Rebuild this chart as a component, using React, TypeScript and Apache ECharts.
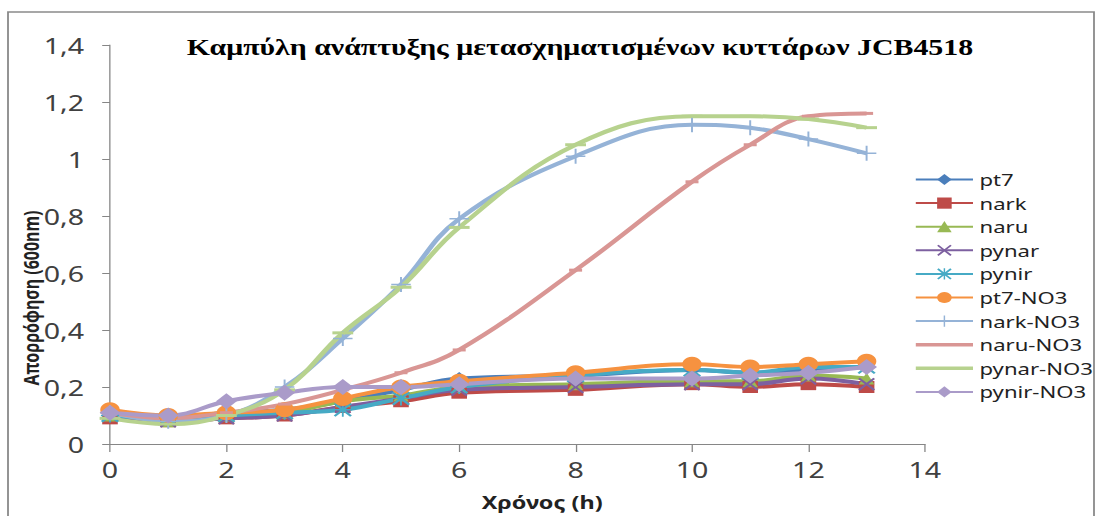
import React, { useEffect, useRef } from "react";
import * as echarts from "echarts";

// ---- data ----
const hours = [0, 1, 2, 3, 4, 5, 6, 8, 10, 11, 12, 13];
const xTicks = [0, 2, 4, 6, 8, 10, 12, 14];
const pt7 = [0.1, 0.09, 0.11, 0.12, 0.15, 0.19, 0.23, 0.24, 0.26, 0.25, 0.26, 0.27];
const nark = [0.09, 0.08, 0.09, 0.1, 0.13, 0.15, 0.18, 0.19, 0.21, 0.2, 0.21, 0.2];
const naru = [0.1, 0.08, 0.1, 0.11, 0.15, 0.17, 0.2, 0.21, 0.22, 0.22, 0.24, 0.23];
const pynar = [0.1, 0.08, 0.09, 0.1, 0.13, 0.16, 0.19, 0.2, 0.21, 0.21, 0.23, 0.21];
const pynir = [0.1, 0.09, 0.1, 0.11, 0.12, 0.16, 0.2, 0.24, 0.26, 0.25, 0.27, 0.27];
const pt7NO3 = [0.12, 0.1, 0.11, 0.12, 0.16, 0.2, 0.22, 0.25, 0.28, 0.27, 0.28, 0.29];
const narkNO3 = [0.11, 0.08, 0.1, 0.2, 0.37, 0.56, 0.79, 1.01, 1.12, 1.11, 1.07, 1.02];
const naruNO3 = [0.11, 0.09, 0.11, 0.14, 0.19, 0.25, 0.33, 0.61, 0.92, 1.05, 1.15, 1.16];
const pynarNO3 = [0.09, 0.07, 0.1, 0.19, 0.39, 0.55, 0.76, 1.05, 1.15, 1.15, 1.14, 1.11];
const pynirNO3 = [0.11, 0.1, 0.15, 0.18, 0.2, 0.2, 0.21, 0.23, 0.23, 0.24, 0.25, 0.27];

const titleText = "Καμπύλη ανάπτυξης μετασχηματισμένων κυττάρων JCB4518";
const xName = "Χρόνος (h)";
const yName = "Απορρόφηση (600nm)";

// ---- styling ----
const SX = 1.3; // horizontal stretch of the original picture
const W = 1100 / SX;
const H = 516;
const FONT = '"Noto Sans", "DejaVu Sans", sans-serif';

const CROSS = "path://M2,0 L10,8 L18,0 L20,2 L12,10 L20,18 L18,20 L10,12 L2,20 L0,18 L8,10 L0,2 Z";
const PLUS = "path://M9,0 H11 V9 H20 V11 H11 V20 H9 V11 H0 V9 H9 Z";
const STAR = PLUS + " M2,0 L10,8 L18,0 L20,2 L12,10 L20,18 L18,20 L10,12 L2,20 L0,18 L8,10 L0,2 Z";
const DASH_S = "path://M0,0 H10 V3 H0 Z";
const DASH_L = "path://M0,0 H16 V3 H0 Z";
const BAR_ICON = "path://M0,0 H50 V4 H0 Z";

const defs = [
  { name: "pt7", data: pt7, color: "#4A7EBB", symbol: "diamond", size: 13 },
  { name: "nark", data: nark, color: "#BE4B48", symbol: "rect", size: 12 },
  { name: "naru", data: naru, color: "#98B954", symbol: "triangle", size: 12 },
  { name: "pynar", data: pynar, color: "#7D60A0", symbol: CROSS, size: 13 },
  { name: "pynir", data: pynir, color: "#46AAC5", symbol: STAR, size: 14 },
  { name: "pt7-NO3", data: pt7NO3, color: "#F69240", symbol: "circle", size: 15 },
  { name: "nark-NO3", data: narkNO3, color: "#95B3D7", symbol: PLUS, size: 15 },
  { name: "naru-NO3", data: naruNO3, color: "#D99694", symbol: DASH_S, size: 10 },
  { name: "pynar-NO3", data: pynarNO3, color: "#B7D28E", symbol: DASH_L, size: 16 },
  { name: "pynir-NO3", data: pynirNO3, color: "#AA9BC9", symbol: "diamond", size: 16 },
];

export default function App() {
  const ref = useRef<HTMLDivElement>(null);

  useEffect(() => {
    document.body.style.margin = "0";
    document.body.style.overflow = "hidden";
    if (!ref.current) return;
    const chart = echarts.init(ref.current, undefined, { renderer: "svg" });

    const gridLeft = 110 / SX;
    const gridRight = W - 925 / SX;

    chart.setOption({
      animation: false,
      backgroundColor: "#ffffff",
      graphic: [
        {
          type: "rect",
          shape: { x: 8 / SX, y: 12, width: (1094 - 8) / SX, height: 520 },
          style: { fill: "none", stroke: "#8a8a8a", lineWidth: 1.4 },
          silent: true,
        },
        {
          type: "text",
          x: 580 / SX,
          y: 47,
          style: {
            text: titleText,
            fontSize: 23,
            fontWeight: "bold",
            fontFamily: '"Liberation Serif", "Times New Roman", serif',
            fill: "#000",
            align: "center",
            verticalAlign: "middle",
          },
        },
        {
          type: "text",
          x: 31 / SX,
          y: 298,
          rotation: Math.PI / 2,
          style: {
            text: yName,
            fontSize: 16,
            fontWeight: "bold",
            fontFamily: FONT,
            fill: "#222",
            align: "center",
            verticalAlign: "middle",
          },
        },
      ],
      grid: { left: gridLeft, right: gridRight, top: 45, bottom: 72 },
      legend: {
        orient: "vertical",
        left: 908 / SX,
        top: 166,
        itemWidth: 44,
        itemHeight: 14,
        itemGap: 6.6,
        textStyle: { fontSize: 17, fontFamily: FONT, color: "#222" },
        data: defs.map((d) =>
          d.symbol === DASH_S || d.symbol === DASH_L
            ? { name: d.name, icon: BAR_ICON }
            : { name: d.name }
        ),
      },
      xAxis: {
        type: "value",
        min: xTicks[0],
        max: xTicks[xTicks.length - 1],
        interval: 2,
        name: xName,
        nameLocation: "middle",
        nameGap: 49,
        nameTextStyle: {
          fontSize: 18,
          fontWeight: "bold",
          fontFamily: FONT,
          color: "#222",
          padding: [0, 0, 0, 38],
        },
        splitLine: { show: false },
        axisLine: { show: true, lineStyle: { color: "#868686", width: 1.2 } },
        axisTick: { show: true, length: 8, lineStyle: { color: "#868686", width: 1 } },
        axisLabel: { fontSize: 22, fontFamily: FONT, color: "#404040", margin: 14 },
      },
      yAxis: {
        type: "value",
        min: 0,
        max: 1.4,
        interval: 0.2,
        splitLine: { show: false },
        axisLine: { show: true, lineStyle: { color: "#868686", width: 1 } },
        axisTick: { show: true, length: 6, lineStyle: { color: "#868686", width: 1 } },
        axisLabel: {
          fontSize: 22,
          fontFamily: FONT,
          color: "#404040",
          margin: 20,
          formatter: (v: number) => String(Math.round(v * 10) / 10).replace(".", ","),
        },
      },
      series: defs.map((d) => ({
        name: d.name,
        type: "line",
        smooth: 0.4,
        data: hours.map((h, i) => [h, d.data[i]]),
        symbol: d.symbol,
        symbolSize: d.size,
        symbolKeepAspect: true,
        showAllSymbol: true,
        color: d.color,
        lineStyle: { width: 4, color: d.color },
        itemStyle: { color: d.color },
      })),
    });

    return () => chart.dispose();
  }, []);

  return (
    <div
      ref={ref}
      style={{
        width: W,
        height: H,
        transform: `scaleX(${SX})`,
        transformOrigin: "0 0",
      }}
    />
  );
}
